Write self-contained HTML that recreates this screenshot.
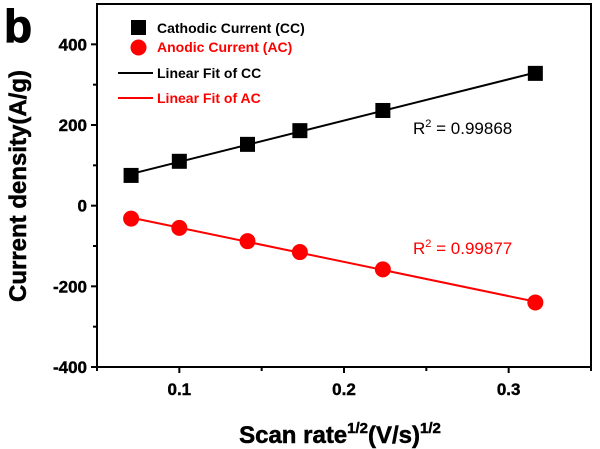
<!DOCTYPE html>
<html><head><meta charset="utf-8"><style>
body{margin:0;background:#fff;}
svg{display:block;font-family:"Liberation Sans",Arial,sans-serif;}
</style></head><body>
<svg id="chart" width="600" height="449" viewBox="0 0 600 449">
<text x="4" y="42" font-size="46" font-weight="bold" stroke="#000" stroke-width="1">b</text>
<g id="axes"></g><g id="marks"></g>
<g font-size="14" font-weight="bold">
<rect x="131" y="20" width="15" height="15" fill="#000"/>
<text x="157" y="33" fill="#000">Cathodic Current (CC)</text>
<circle cx="138.5" cy="47.5" r="8" fill="#f00"/>
<text x="157" y="52" fill="#f00">Anodic Current (AC)</text>
<line x1="118" y1="73" x2="153" y2="73" stroke="#000" stroke-width="2"/>
<text x="157" y="78" fill="#000">Linear Fit of CC</text>
<line x1="118" y1="98" x2="153" y2="98" stroke="#f00" stroke-width="2"/>
<text x="157" y="103" fill="#f00">Linear Fit of AC</text>
</g>
<text x="413" y="134" font-size="17" fill="#000">R<tspan dy="-7" font-size="11">2</tspan><tspan dy="7"> = 0.99868</tspan></text>
<text x="413" y="254" font-size="17" fill="#f00">R<tspan dy="-7" font-size="11">2</tspan><tspan dy="7"> = 0.99877</tspan></text>
<text transform="translate(26,186) rotate(-90)" text-anchor="middle" font-size="24" font-weight="bold" stroke="#000" stroke-width="0.5">Current density(A/g)</text>
<text x="340" y="443" text-anchor="middle" font-size="24" font-weight="bold" stroke="#000" stroke-width="0.5">Scan rate<tspan dy="-10" font-size="15">1/2</tspan><tspan dy="10">(V/s)</tspan><tspan dy="-10" font-size="15">1/2</tspan></text>
</svg>
<script>
const xs = [0.0707, 0.1, 0.1414, 0.1732, 0.2236, 0.3162];
const ccValues = [75, 110, 152, 186, 236, 328];
const acValues = [-32, -55, -88, -115, -158, -240];
const xTicks = [0.1, 0.2, 0.3];
const xMinor = [0.05, 0.15, 0.25, 0.35];
const yTicks = [-400, -200, 0, 200, 400];
const yMinor = [-300, -100, 100, 300];
const NS = "http://www.w3.org/2000/svg";
const L = 97, R = 591, T = 4, B = 367;
const X = v => L + (v - 0.05) / 0.3 * (R - L);
const Y = v => B - (v + 400) / 900 * (B - T);
function mk(tag, attrs, parent) { const e = document.createElementNS(NS, tag); for (const k in attrs) e.setAttribute(k, attrs[k]); parent.appendChild(e); return e; }
const axes = document.getElementById('axes'), marks = document.getElementById('marks');
const frame = mk('rect', {x: L, y: T, width: R - L, height: B - T, fill: 'none', stroke: '#000', 'stroke-width': 2}, axes);


xTicks.forEach(v => {
  const t = mk('line', {x1: X(v), x2: X(v), y1: B, y2: B + 6, stroke: '#000', 'stroke-width': 2}, axes);
  
  
  const s = mk('text', {x: X(v), y: B + 28, 'text-anchor': 'middle', 'font-size': 17, 'font-weight': 'bold', stroke: '#000', 'stroke-width': 0.4}, axes);
  s.textContent = v.toFixed(1);
  
  
});
xMinor.forEach(v => {
  const t = mk('line', {x1: X(v), x2: X(v), y1: B, y2: B + 4, stroke: '#000', 'stroke-width': 2}, axes);
  
  
});
yTicks.forEach(v => {
  const t = mk('line', {x1: L - 6, x2: L, y1: Y(v), y2: Y(v), stroke: '#000', 'stroke-width': 2}, axes);
  
  
  const s = mk('text', {x: L - 10, y: Y(v) + 6, 'text-anchor': 'end', 'font-size': 17, 'font-weight': 'bold', stroke: '#000', 'stroke-width': 0.4}, axes);
  s.textContent = v;
  
  
});
yMinor.forEach(v => {
  const t = mk('line', {x1: L - 4, x2: L, y1: Y(v), y2: Y(v), stroke: '#000', 'stroke-width': 2}, axes);
  
  
});
function fit(ys) {
  const n = xs.length, mx = xs.reduce((a, b) => a + b) / n, my = ys.reduce((a, b) => a + b) / n;
  let sxy = 0, sxx = 0; xs.forEach((x, i) => { sxy += (x - mx) * (ys[i] - my); sxx += (x - mx) * (x - mx); });
  const m = sxy / sxx; return [m, my - m * mx];
}
[[ccValues, '#000', 'cc'], [acValues, '#f00', 'ac']].forEach(([ys, c, id]) => {
  const [m, b] = fit(ys);
  const x0 = xs[0], x1 = xs[xs.length - 1];
  const ln = mk('line', {x1: X(x0), y1: Y(m * x0 + b), x2: X(x1), y2: Y(m * x1 + b), stroke: c, 'stroke-width': 2}, marks);
  
  
  xs.forEach((x, i) => {
    let p;
    if (id === 'cc') p = mk('rect', {x: X(x) - 7.5, y: Y(ys[i]) - 7.5, width: 15, height: 15, fill: c}, marks);
    else p = mk('circle', {cx: X(x), cy: Y(ys[i]), r: 8, fill: c}, marks);
    
    
  });
});
</script>
</body></html>
